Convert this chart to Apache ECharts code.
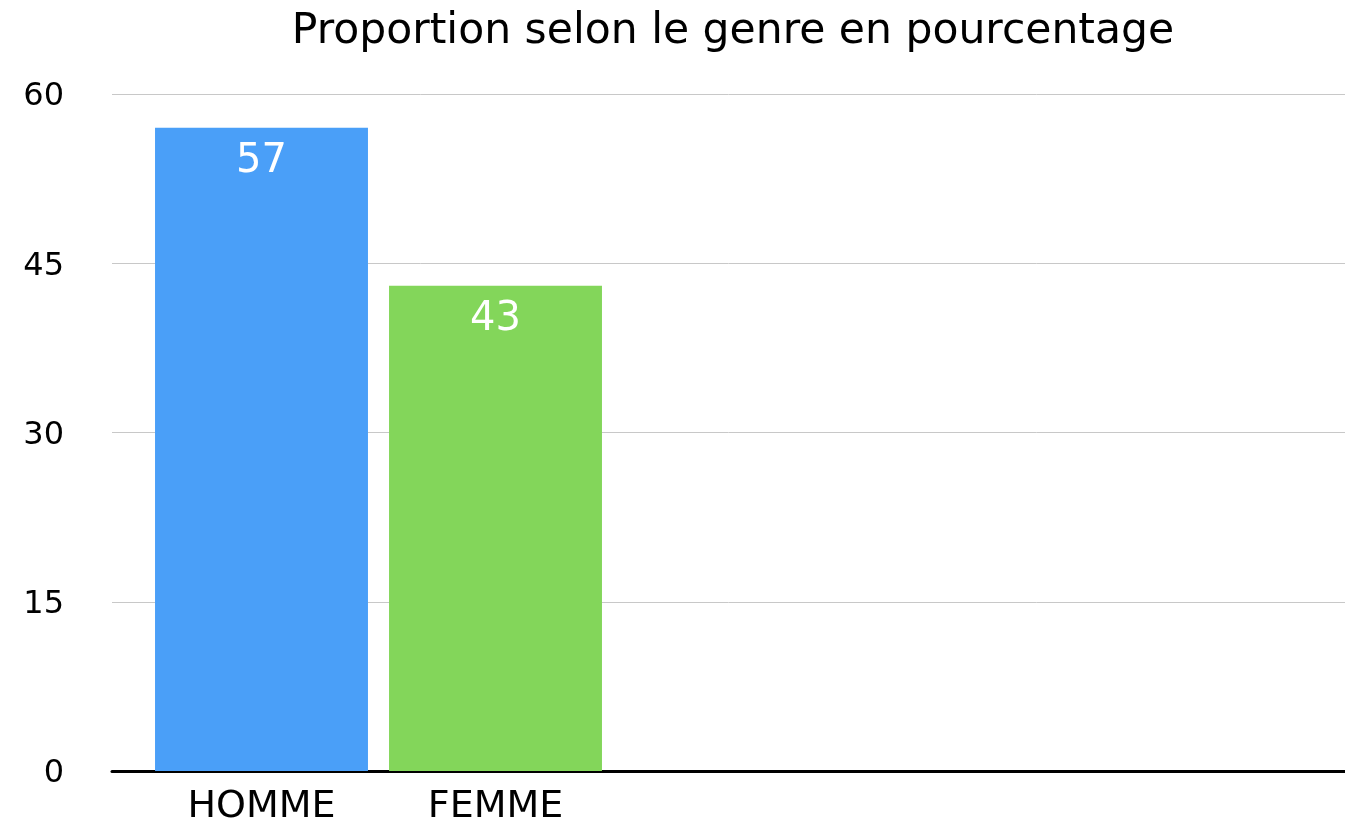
<!DOCTYPE html>
<html>
<head>
<meta charset="utf-8">
<script src="https://cdn.jsdelivr.net/npm/echarts@6/dist/echarts.min.js"></script>
<style>html,body{margin:0;padding:0;background:#fff;}#c{width:1345px;height:827px;}</style>
</head>
<body>
<div id="c"></div>
<script>
const titleText = 'Proportion selon le genre en pourcentage';
const categories = ['HOMME', 'FEMME'];
const values = [57, 43];
const barColors = ['#4A9FF8', '#83D65A'];
const yTicks = [0, 15, 30, 45, 60];

const FONT = '"DejaVu Sans", "Liberation Sans", Arial, sans-serif';
const chart = echarts.init(document.getElementById('c'), null, {renderer: 'canvas'});
chart.setOption({
  backgroundColor: '#ffffff',
  animation: false,
  title: {
    text: titleText,
    left: 728, top: 5, textAlign: 'center',
    textStyle: {fontFamily: FONT, fontSize: 42.5, fontWeight: 'normal', color: '#000'}
  },
  grid: [
    {left: 112, right: 0, top: 94, bottom: 56},
    {left: 144.5, width: 468, top: 94, bottom: 56}
  ],
  xAxis: [
    {gridIndex: 0, type: 'category', data: [''], axisLine: {show: true, lineStyle: {color: '#000', width: 3}},
     axisTick: {show: false}, axisLabel: {show: false}},
    {gridIndex: 1, type: 'category', data: categories, axisLine: {show: false}, axisTick: {show: false},
     axisLabel: {fontFamily: FONT, fontSize: 38, color: '#000', margin: 17}}
  ],
  yAxis: [
    {gridIndex: 0, type: 'value', min: yTicks[0], max: yTicks[yTicks.length - 1], interval: 15,
     axisLine: {show: false}, axisTick: {show: false},
     axisLabel: {fontFamily: FONT, fontSize: 32, color: '#000', margin: 48,
                 verticalAlign: 'top', lineHeight: 6},
     splitLine: {show: true, lineStyle: {color: '#c8c8c8', width: 1}}},
    {gridIndex: 1, type: 'value', min: yTicks[0], max: yTicks[yTicks.length - 1], interval: 15,
     show: false}
  ],
  series: [{
    type: 'bar', xAxisIndex: 1, yAxisIndex: 1,
    data: values.map((v, i) => ({value: v, itemStyle: {color: barColors[i]}})),
    barCategoryGap: '9%',
    label: {show: true, position: 'insideTop', distance: 14, color: '#fff',
            fontFamily: FONT, fontSize: 40}
  }]
});
</script>
</body>
</html>
